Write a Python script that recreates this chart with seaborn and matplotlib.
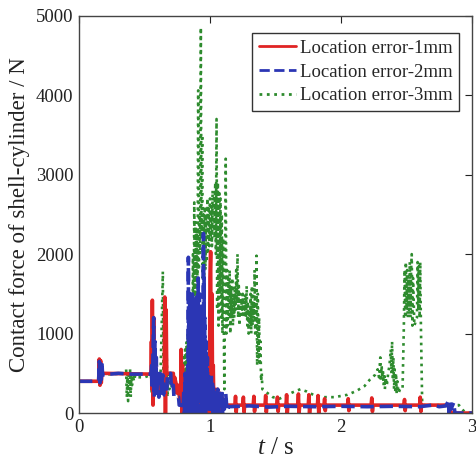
import numpy as np
import pandas as pd
import matplotlib
matplotlib.use("Agg")
import matplotlib.pyplot as plt
import seaborn as sns

# ---------------- data (t [s], contact force [N]) ----------------
series_names = ["Location error-1mm", "Location error-2mm", "Location error-3mm"]

red_pts = [
    (0.00, 400), (0.15, 400), (0.155, 680), (0.16, 350), (0.165, 660), (0.17, 380), (0.175, 500),
    (0.55, 490), (0.553, 900), (0.556, 300), (0.56, 1420), (0.565, 100), (0.57, 1200), (0.575, 350),
    (0.58, 800), (0.59, 400), (0.60, 480), (0.61, 300), (0.62, 460), (0.63, 380), (0.64, 450),
    (0.65, 320), (0.655, 1460), (0.66, 0), (0.665, 1300), (0.67, 500), (0.72, 500), (0.725, 250),
    (0.73, 450), (0.74, 380), (0.75, 250), (0.76, 350), (0.77, 150), (0.775, 100), (0.78, 800),
    (0.785, 0), (0.79, 600), (0.795, 100), (0.80, 400), (0.805, 50), (0.81, 300), (0.815, 0),
    (0.82, 500), (0.825, 100), (0.83, 400), (0.835, 0), (0.84, 600), (0.845, 100), (0.85, 500),
    (0.855, 0), (0.86, 400), (0.865, 100), (0.87, 600), (0.875, 0), (0.88, 500), (0.885, 100),
    (0.89, 700), (0.895, 0), (0.90, 500), (0.905, 50), (0.91, 400), (0.915, 0), (0.92, 600),
    (0.925, 100), (0.93, 500), (0.935, 0), (0.94, 400), (0.945, 100), (0.95, 500), (0.955, 0),
    (0.96, 400), (0.965, 100), (0.97, 300), (0.975, 0), (0.98, 400), (0.985, 100), (0.99, 600),
    (0.995, 50), (1.00, 1700), (1.005, 2030), (1.01, 0), (1.015, 1500), (1.02, 200), (1.025, 600),
    (1.03, 0), (1.035, 300), (1.04, 50), (1.045, 250), (1.05, 0), (1.055, 300), (1.06, 50),
    (1.065, 200), (1.07, 0), (1.075, 250), (1.08, 50), (1.09, 200), (1.095, 80), (1.10, 150),
    (1.11, 100), (1.19, 100), (1.195, 210), (1.20, 10), (1.205, 100), (1.25, 100), (1.255, 200),
    (1.26, 10), (1.265, 100), (1.33, 100), (1.335, 210), (1.34, 20), (1.345, 100), (1.42, 100),
    (1.425, 220), (1.43, 10), (1.435, 100), (1.51, 100), (1.515, 200), (1.52, 20), (1.525, 100),
    (1.58, 100), (1.585, 230), (1.59, 0), (1.595, 100), (1.67, 100), (1.675, 240), (1.68, 0),
    (1.685, 100), (1.75, 100), (1.755, 230), (1.76, 0), (1.765, 100), (1.82, 100), (1.825, 220),
    (1.83, 0), (1.835, 100), (1.87, 100), (1.875, 180), (1.88, 30), (1.885, 100), (2.05, 100),
    (2.055, 180), (2.06, 30), (2.065, 100), (2.23, 100), (2.235, 190), (2.24, 20), (2.245, 100),
    (2.48, 100), (2.485, 170), (2.49, 30), (2.495, 100), (2.60, 100), (2.605, 200), (2.61, 20),
    (2.615, 100), (2.83, 100), (2.835, 60), (2.84, 0), (3.00, 0),
]

blue_pts = [
    (0.00, 400), (0.15, 400), (0.155, 650), (0.16, 380), (0.165, 620), (0.17, 420), (0.175, 640),
    (0.18, 480), (0.30, 500), (0.40, 490), (0.55, 490), (0.555, 600), (0.56, 300), (0.57, 1200),
    (0.575, 200), (0.58, 900), (0.585, 250), (0.59, 700), (0.595, 250), (0.60, 500), (0.61, 200),
    (0.62, 500), (0.63, 250), (0.64, 480), (0.65, 230), (0.67, 230), (0.675, 500), (0.70, 500),
    (0.705, 300), (0.72, 350), (0.725, 200), (0.76, 200), (0.765, 100), (0.79, 100), (0.795, 50),
    (0.80, 300), (0.805, 0), (0.81, 500), (0.815, 50), (0.82, 400), (0.825, 0),
    (0.83, 600), (0.8325, 100), (0.835, 1960), (0.8375, 0), (0.84, 1200), (0.8425, 200),
    (0.845, 1500), (0.8475, 0), (0.85, 900), (0.8525, 100), (0.855, 1300), (0.8575, 0),
    (0.86, 1000), (0.8625, 200), (0.865, 1500), (0.8675, 0), (0.87, 1100), (0.8725, 100),
    (0.875, 1200), (0.8775, 0), (0.88, 1300), (0.8825, 200), (0.885, 1400), (0.8875, 0),
    (0.89, 1000), (0.8925, 200), (0.895, 1500), (0.8975, 0), (0.90, 1200), (0.9025, 100),
    (0.905, 1400), (0.9075, 200), (0.91, 1700), (0.9125, 100), (0.915, 1300), (0.9175, 0),
    (0.92, 1500), (0.9225, 300), (0.925, 1100), (0.9275, 0), (0.93, 1200), (0.9325, 100),
    (0.935, 1000), (0.9375, 0), (0.94, 1300), (0.9425, 200), (0.945, 1100), (0.9475, 0),
    (0.95, 2260), (0.9525, 100), (0.955, 1700), (0.9575, 0), (0.96, 1200), (0.9625, 100),
    (0.965, 900), (0.9675, 0), (0.97, 900), (0.975, 100), (0.98, 700), (0.985, 50), (0.99, 500),
    (0.995, 0), (1.00, 400), (1.005, 50), (1.01, 500), (1.015, 100), (1.02, 400), (1.025, 0),
    (1.03, 300), (1.035, 50), (1.04, 250), (1.045, 0), (1.05, 200), (1.055, 50), (1.06, 300),
    (1.065, 0), (1.07, 200), (1.08, 50), (1.09, 300), (1.095, 0), (1.10, 150), (1.11, 50),
    (1.12, 250), (1.13, 30), (1.14, 80), (1.30, 90), (1.45, 75), (1.60, 85), (1.80, 80),
    (2.00, 85), (2.20, 80), (2.40, 85), (2.60, 80), (2.70, 100), (2.75, 80), (2.80, 90),
    (2.82, 150), (2.825, 0), (2.83, 140), (2.84, 50), (2.86, 130), (2.87, 0), (2.88, 0),
    (3.00, 0),
]

green_pts = [
    (0.00, 400), (0.15, 400), (0.155, 600), (0.16, 400), (0.165, 600), (0.17, 480), (0.35, 500),
    (0.36, 550), (0.365, 200), (0.37, 500), (0.375, 150), (0.38, 480), (0.385, 300), (0.39, 550),
    (0.395, 200), (0.40, 500), (0.405, 350), (0.41, 480), (0.42, 400), (0.43, 480), (0.45, 450),
    (0.50, 450), (0.55, 480), (0.555, 250), (0.56, 500), (0.565, 300), (0.57, 450), (0.58, 350),
    (0.59, 480), (0.60, 250), (0.61, 450), (0.62, 300), (0.63, 1000), (0.64, 1780), (0.645, 300),
    (0.65, 1100), (0.655, 200), (0.66, 900), (0.665, 300), (0.67, 700), (0.675, 200), (0.68, 500),
    (0.69, 300), (0.70, 450), (0.71, 300), (0.72, 400), (0.73, 300), (0.74, 350), (0.75, 250),
    (0.76, 300), (0.77, 100), (0.78, 500), (0.785, 0), (0.79, 600), (0.795, 50), (0.80, 700),
    (0.805, 100), (0.81, 800), (0.815, 0), (0.82, 900), (0.825, 200), (0.83, 1000), (0.835, 100),
    (0.84, 800), (0.845, 300), (0.85, 1200), (0.855, 200), (0.86, 1500), (0.865, 400),
    (0.87, 2000), (0.875, 800), (0.88, 2650), (0.885, 1200), (0.89, 2400), (0.895, 1700),
    (0.90, 2300), (0.905, 1500), (0.91, 4060), (0.915, 1800), (0.92, 2500), (0.925, 2000),
    (0.93, 4850), (0.935, 2200), (0.94, 3500), (0.945, 1700), (0.95, 2500), (0.955, 1600),
    (0.96, 2600), (0.965, 1800), (0.97, 2500), (0.975, 1900), (0.98, 2700), (0.985, 2000),
    (0.99, 2600), (0.995, 2100), (1.00, 2700), (1.005, 2200), (1.01, 2600), (1.015, 2100),
    (1.02, 2800), (1.025, 2300), (1.03, 2700), (1.035, 2200), (1.04, 2900), (1.045, 2000),
    (1.05, 3700), (1.055, 1300), (1.06, 2900), (1.065, 1100), (1.07, 2800), (1.075, 1500),
    (1.08, 2700), (1.085, 1200), (1.09, 2500), (1.095, 1000), (1.10, 2200), (1.105, 1100),
    (1.11, 300), (1.115, 1800), (1.12, 3200), (1.125, 1000), (1.13, 1800), (1.135, 1100),
    (1.14, 1700), (1.145, 1200), (1.15, 1800), (1.155, 1000), (1.16, 1600), (1.165, 1200),
    (1.17, 1700), (1.175, 1100), (1.18, 1500), (1.185, 1200), (1.19, 1600), (1.195, 1300),
    (1.20, 1800), (1.205, 1400), (1.21, 2000), (1.215, 1200), (1.22, 1600), (1.225, 1100),
    (1.23, 1500), (1.235, 1200), (1.24, 1400), (1.245, 1300), (1.25, 1500), (1.255, 1200),
    (1.26, 1400), (1.265, 1300), (1.27, 1500), (1.275, 1200), (1.28, 1600), (1.285, 1100),
    (1.29, 1400), (1.295, 1000), (1.30, 1300), (1.305, 1100), (1.31, 1500), (1.315, 1000),
    (1.32, 1600), (1.325, 1100), (1.33, 1400), (1.335, 1200), (1.34, 1800), (1.345, 1000),
    (1.355, 1980), (1.36, 600), (1.365, 1500), (1.37, 700), (1.375, 1200), (1.38, 600),
    (1.385, 900), (1.39, 400), (1.395, 500), (1.40, 300), (1.44, 250), (1.48, 200), (1.53, 180),
    (1.58, 220), (1.63, 260), (1.69, 300), (1.74, 270), (1.80, 220), (1.85, 200), (1.95, 200),
    (2.05, 230), (2.12, 280), (2.18, 340), (2.22, 420), (2.26, 480), (2.28, 550), (2.29, 450),
    (2.30, 700), (2.305, 400), (2.31, 600), (2.315, 450), (2.32, 550), (2.325, 350), (2.33, 500),
    (2.335, 300), (2.34, 450), (2.35, 350), (2.36, 500), (2.37, 600), (2.38, 800), (2.385, 500),
    (2.39, 900), (2.395, 450), (2.40, 700), (2.405, 300), (2.41, 550), (2.415, 250), (2.42, 500),
    (2.425, 250), (2.43, 400), (2.44, 250), (2.45, 300), (2.47, 300), (2.48, 1100),
    (2.485, 1800), (2.49, 1200), (2.495, 1900), (2.50, 1300), (2.505, 1800), (2.51, 1200),
    (2.515, 1700), (2.52, 1300), (2.525, 1900), (2.53, 1200), (2.535, 1800), (2.54, 2000),
    (2.545, 1100), (2.55, 1700), (2.56, 1100), (2.58, 1200), (2.585, 1900), (2.59, 1300),
    (2.595, 1850), (2.60, 1200), (2.605, 1900), (2.61, 1100), (2.62, 100), (2.90, 100),
    (2.95, 0), (3.00, 0),
]

colors = ["#e02424", "#2b36b4", "#2e8b2e"]
styles = ["-", "--", ":"]
widths = [2.6, 2.6, 1.9]

x_ticks = [0, 1, 2, 3]
y_ticks = [0, 1000, 2000, 3000, 4000, 5000]

# ---------------- styling ----------------
sns.set_theme(style="white")
plt.rcParams["font.family"] = ["Liberation Serif", "DejaVu Serif"]
plt.rcParams["mathtext.fontset"] = "custom"
plt.rcParams["mathtext.rm"] = "Liberation Serif"
plt.rcParams["mathtext.it"] = "Liberation Serif:italic"

fig = plt.figure(figsize=(4.77, 4.61), dpi=100)
ax = fig.add_axes([0.1656, 0.104, 0.8239, 0.862])

frames = []
for name, pts in zip(series_names, [red_pts, blue_pts, green_pts]):
    df = pd.DataFrame(pts, columns=["t", "force"])
    df["series"] = name
    frames.append(df)

# draw order: green (bottom), red, blue (top)
for idx in [2, 0, 1]:
    df = frames[idx]
    sns.lineplot(data=df, x="t", y="force", ax=ax, color=colors[idx],
                 linestyle=styles[idx], linewidth=widths[idx],
                 estimator=None, sort=False, label=series_names[idx])

h, l = ax.get_legend_handles_labels()
order = [l.index(n) for n in series_names]
leg = ax.legend([h[i] for i in order], [l[i] for i in order],
                loc="upper right", bbox_to_anchor=(0.967, 0.956),
                fontsize=13.5, frameon=True, fancybox=False, framealpha=1,
                edgecolor="#333333", handlelength=2.0, handletextpad=0.2,
                borderpad=0.35, labelspacing=0.35, borderaxespad=0.0)
leg.get_frame().set_linewidth(1.0)
for line in leg.get_lines():
    line.set_linewidth(2.0)

ax.set_xlim(0, 3)
ax.set_ylim(0, 5000)
ax.set_xticks(x_ticks)
ax.set_yticks(y_ticks)
ax.tick_params(direction="in", length=5, width=0.8, top=True, right=True,
               labelsize=13.5, colors="#222222", pad=4)
for s in ax.spines.values():
    s.set_color("#444444")
    s.set_linewidth(1.0)
    s.set_visible(True)

ax.set_xlabel("$t$ / s", fontsize=18, labelpad=1, color="#222222")
ax.set_ylabel("Contact force of shell-cylinder / N", fontsize=16.5, labelpad=4,
              color="#222222")

fig.savefig("out.png", dpi=100, facecolor="white")
